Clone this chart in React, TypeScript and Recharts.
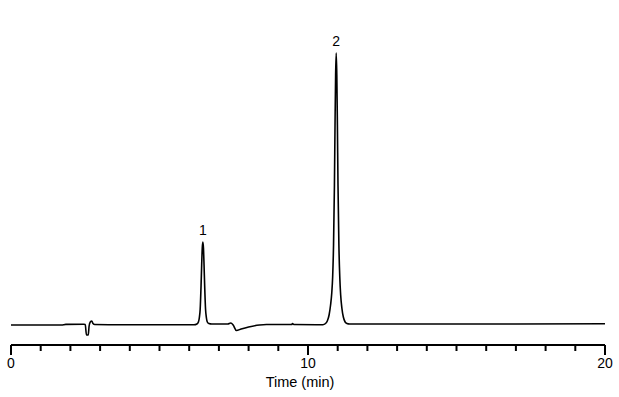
import React from 'react';
import { LineChart, Line, XAxis, YAxis, ReferenceDot } from 'recharts';

// Chromatogram trace, [time (min), signal]
const injectionSegment: [number, number][] = [
  [0, 0], [1.0, 0], [1.7, 0], [1.85, 0.6], [2.45, 0.7], [2.5, 0.5], [2.54, -10], [2.6, -10],
  [2.63, -1], [2.67, 3], [2.72, 4], [2.76, 1.5], [2.82, 0.5], [3.5, 0.3], [5.0, 0.2], [6.16, 0.2],
];
const peak1Segment: [number, number][] = [
  [6.26, 1], [6.31, 3], [6.34, 7], [6.37, 16], [6.4, 40], [6.42, 60], [6.44, 77], [6.46, 83],
  [6.48, 77], [6.5, 60], [6.52, 40], [6.55, 16], [6.58, 7], [6.61, 3], [6.66, 1.5], [6.76, 1],
];
const driftSegment: [number, number][] = [
  [7.3, 1], [7.4, 2], [7.48, 0], [7.59, -5.5], [7.75, -4], [8.0, -2], [8.37, 0], [8.6, 0.5],
  [9.45, 0.5], [9.48, 1.5], [9.52, 0.5], [10.3, 0.3], [10.5, 0.3],
];
const peak2Segment: [number, number][] = [
  [10.59, 1.5], [10.65, 4], [10.71, 10], [10.76, 20], [10.8, 32], [10.83, 48], [10.86, 80],
  [10.89, 140], [10.91, 200], [10.93, 250], [10.95, 272], [10.97, 250], [10.99, 200],
  [11.01, 140], [11.04, 80], [11.07, 48], [11.1, 30], [11.14, 17], [11.19, 8], [11.25, 3],
  [11.31, 1.5], [11.4, 1],
];
const tailSegment: [number, number][] = [
  [11.55, 1], [14, 1], [17, 1], [20, 1.2],
];

const peakTimes = [6.46, 10.95];
const peakHeights = [83, 272];
const peakLabels = ['1', '2'];

const axisTicks = [0, 1, 2, 3, 4, 5, 6, 7, 8, 9, 10, 11, 12, 13, 14, 15, 16, 17, 18, 19, 20];
const labeledTicks = [0, 10, 20];

const data = [
  ...injectionSegment,
  ...peak1Segment,
  ...driftSegment,
  ...peak2Segment,
  ...tailSegment,
].map(([t, v]) => ({ t, v }));

const FONT = '"Liberation Sans", Arial, sans-serif';

const TimeTick = (props: any) => {
  const { x, y, payload } = props;
  const major = labeledTicks.includes(payload.value);
  return (
    <g>
      <line x1={x} x2={x} y1={y} y2={y + (major ? 10 : 6)} stroke="#000" strokeWidth={2} />
      {major && (
        <text x={x} y={y + 23} textAnchor="middle" fontSize={14} fontFamily={FONT} fill="#000">
          {payload.value}
        </text>
      )}
    </g>
  );
};

const AxisTitle = (props: any) => {
  const vb = props.viewBox || {};
  return (
    <text
      x={vb.x + vb.width / 2 - 8}
      y={vb.y + vb.height - 10}
      textAnchor="middle"
      fontSize={14.5}
      fontFamily={FONT}
      fill="#000"
    >
      Time (min)
    </text>
  );
};

export default function App() {
  return (
    <div style={{ position: 'absolute', left: 0, top: 0, background: '#fff' }}>
      <LineChart width={619} height={397} data={data} margin={{ top: 10, right: 14, bottom: 0, left: 11 }}>
        <XAxis
          dataKey="t"
          type="number"
          domain={[0, 20]}
          ticks={axisTicks}
          interval={0}
          tickSize={0}
          tickMargin={0}
          tickLine={false}
          tick={<TimeTick />}
          axisLine={{ stroke: '#000', strokeWidth: 2 }}
          height={52}
          label={<AxisTitle />}
        />
        <YAxis hide type="number" domain={[-20, 315]} allowDataOverflow />
        <Line
          type="monotone"
          dataKey="v"
          stroke="#000"
          strokeWidth={1.6}
          dot={false}
          isAnimationActive={false}
        />
        {peakTimes.map((t, i) => (
          <ReferenceDot
            key={peakLabels[i]}
            x={t}
            y={peakHeights[i]}
            r={0}
            fill="none"
            stroke="none"
            label={{ value: peakLabels[i], position: 'top', offset: 7, fontSize: 14, fontFamily: FONT, fill: '#000' }}
          />
        ))}
      </LineChart>
    </div>
  );
}
